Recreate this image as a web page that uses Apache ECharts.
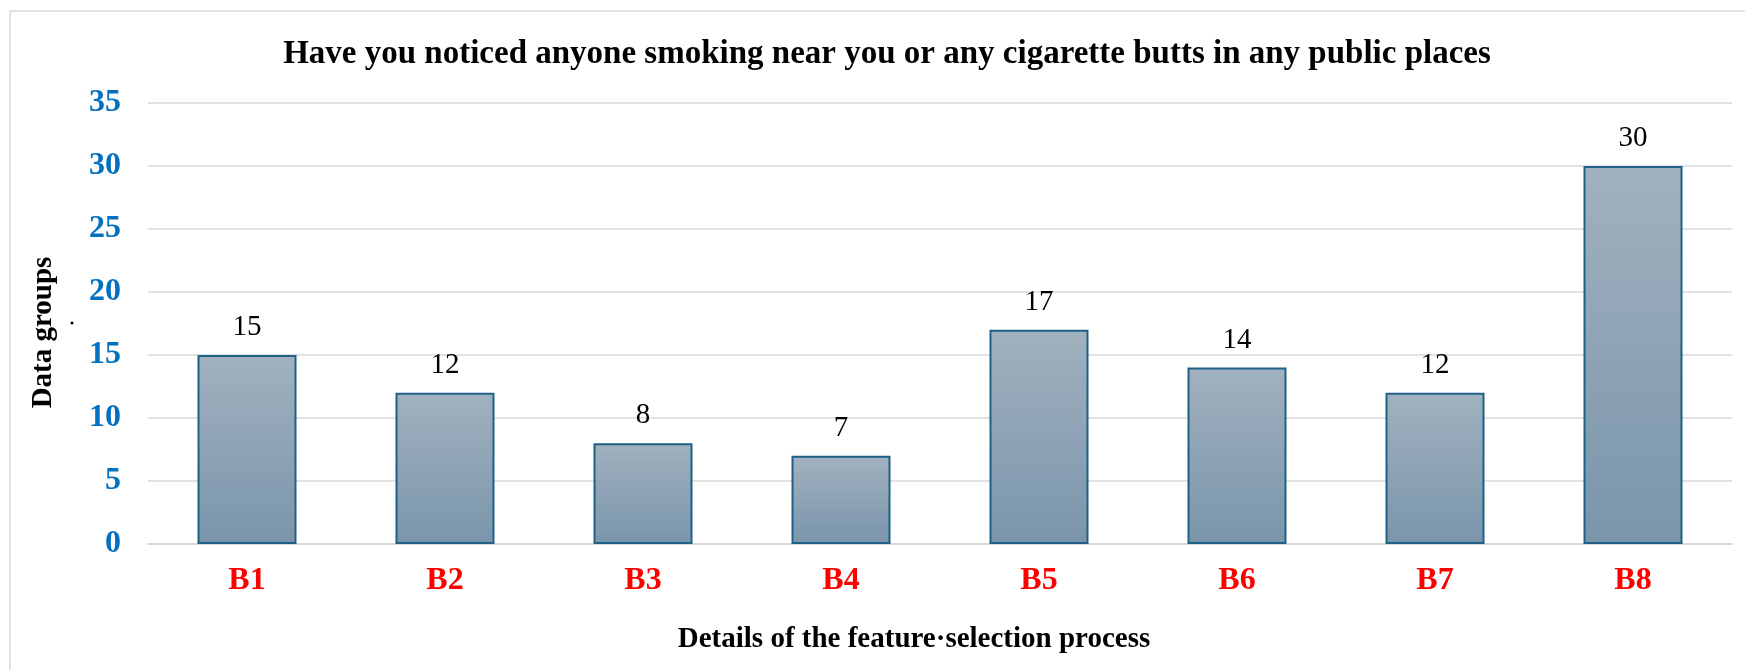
<!DOCTYPE html>
<html>
<head>
<meta charset="utf-8">
<script src="https://cdn.jsdelivr.net/npm/echarts@6/dist/echarts.min.js"></script>
<style>html,body{margin:0;padding:0;background:#fff;}#c{width:1745px;height:670px;}</style>
</head>
<body>
<div id="c"></div>
<script>
var categories = ['B1','B2','B3','B4','B5','B6','B7','B8'];
var values = [15, 12, 8, 7, 17, 14, 12, 30];
var yTicks = {min: 0, max: 35, interval: 5};
var titleText = 'Have you noticed anyone smoking near you or any cigarette butts in any public places';
var xName = 'Details of the feature\u00B7selection process';
var yName = 'Data groups';

var FONT = '"Liberation Serif", "Times New Roman", serif';
var chart = echarts.init(document.getElementById('c'));
chart.setOption({
  backgroundColor: '#fff',
  animation: false,
  title: {
    text: titleText,
    left: 882, top: 33, textAlign: 'center',
    textStyle: {fontFamily: FONT, fontSize: 33, fontWeight: 'bold', color: '#000'}
  },
  graphic: [
    {type: 'rect', shape: {x: 10, y: 11, width: 1800, height: 800}, style: {fill: 'none', stroke: '#d9d9d9', lineWidth: 1.5}, silent: true, z: -10},
    {type: 'circle', shape: {cx: 72, cy: 323, r: 1.5}, style: {fill: '#000'}, silent: true}
  ],
  grid: {left: 148, right: 13, top: 103, bottom: 126, containLabel: false},
  xAxis: {
    type: 'category', data: categories,
    axisLine: {show: true, lineStyle: {color: '#d9d9d9', width: 2}},
    axisTick: {show: false},
    axisLabel: {margin: 21, fontFamily: FONT, fontSize: 32, fontWeight: 'bold', color: '#ff0000'},
    name: xName, nameLocation: 'middle', nameGap: 81,
    nameTextStyle: {fontFamily: FONT, fontSize: 29, fontWeight: 'bold', color: '#000', padding: [0, 52, 0, 0]}
  },
  yAxis: {
    type: 'value', min: yTicks.min, max: yTicks.max, interval: yTicks.interval,
    axisLine: {show: false}, axisTick: {show: false},
    splitLine: {lineStyle: {color: '#d9d9d9', width: 1.5}},
    axisLabel: {margin: 27, fontFamily: FONT, fontSize: 32, fontWeight: 'bold', color: '#0070c0'},
    name: yName, nameLocation: 'middle', nameGap: 90, nameRotate: 90,
    nameTextStyle: {fontFamily: FONT, fontSize: 29, fontWeight: 'bold', color: '#000', padding: [0, 18, 0, 0]}
  },
  series: [{
    type: 'bar', data: values, barWidth: '50%',
    itemStyle: {
      color: new echarts.graphic.LinearGradient(0, 0, 0, 1, [
        {offset: 0, color: '#a1b1bf'},
        {offset: 1, color: '#7a95ab'}
      ], false),
      borderColor: '#1f6086', borderWidth: 2
    },
    label: {show: true, position: 'top', distance: 13, fontFamily: FONT, fontSize: 29, color: '#000'}
  }]
});
</script>
</body>
</html>
